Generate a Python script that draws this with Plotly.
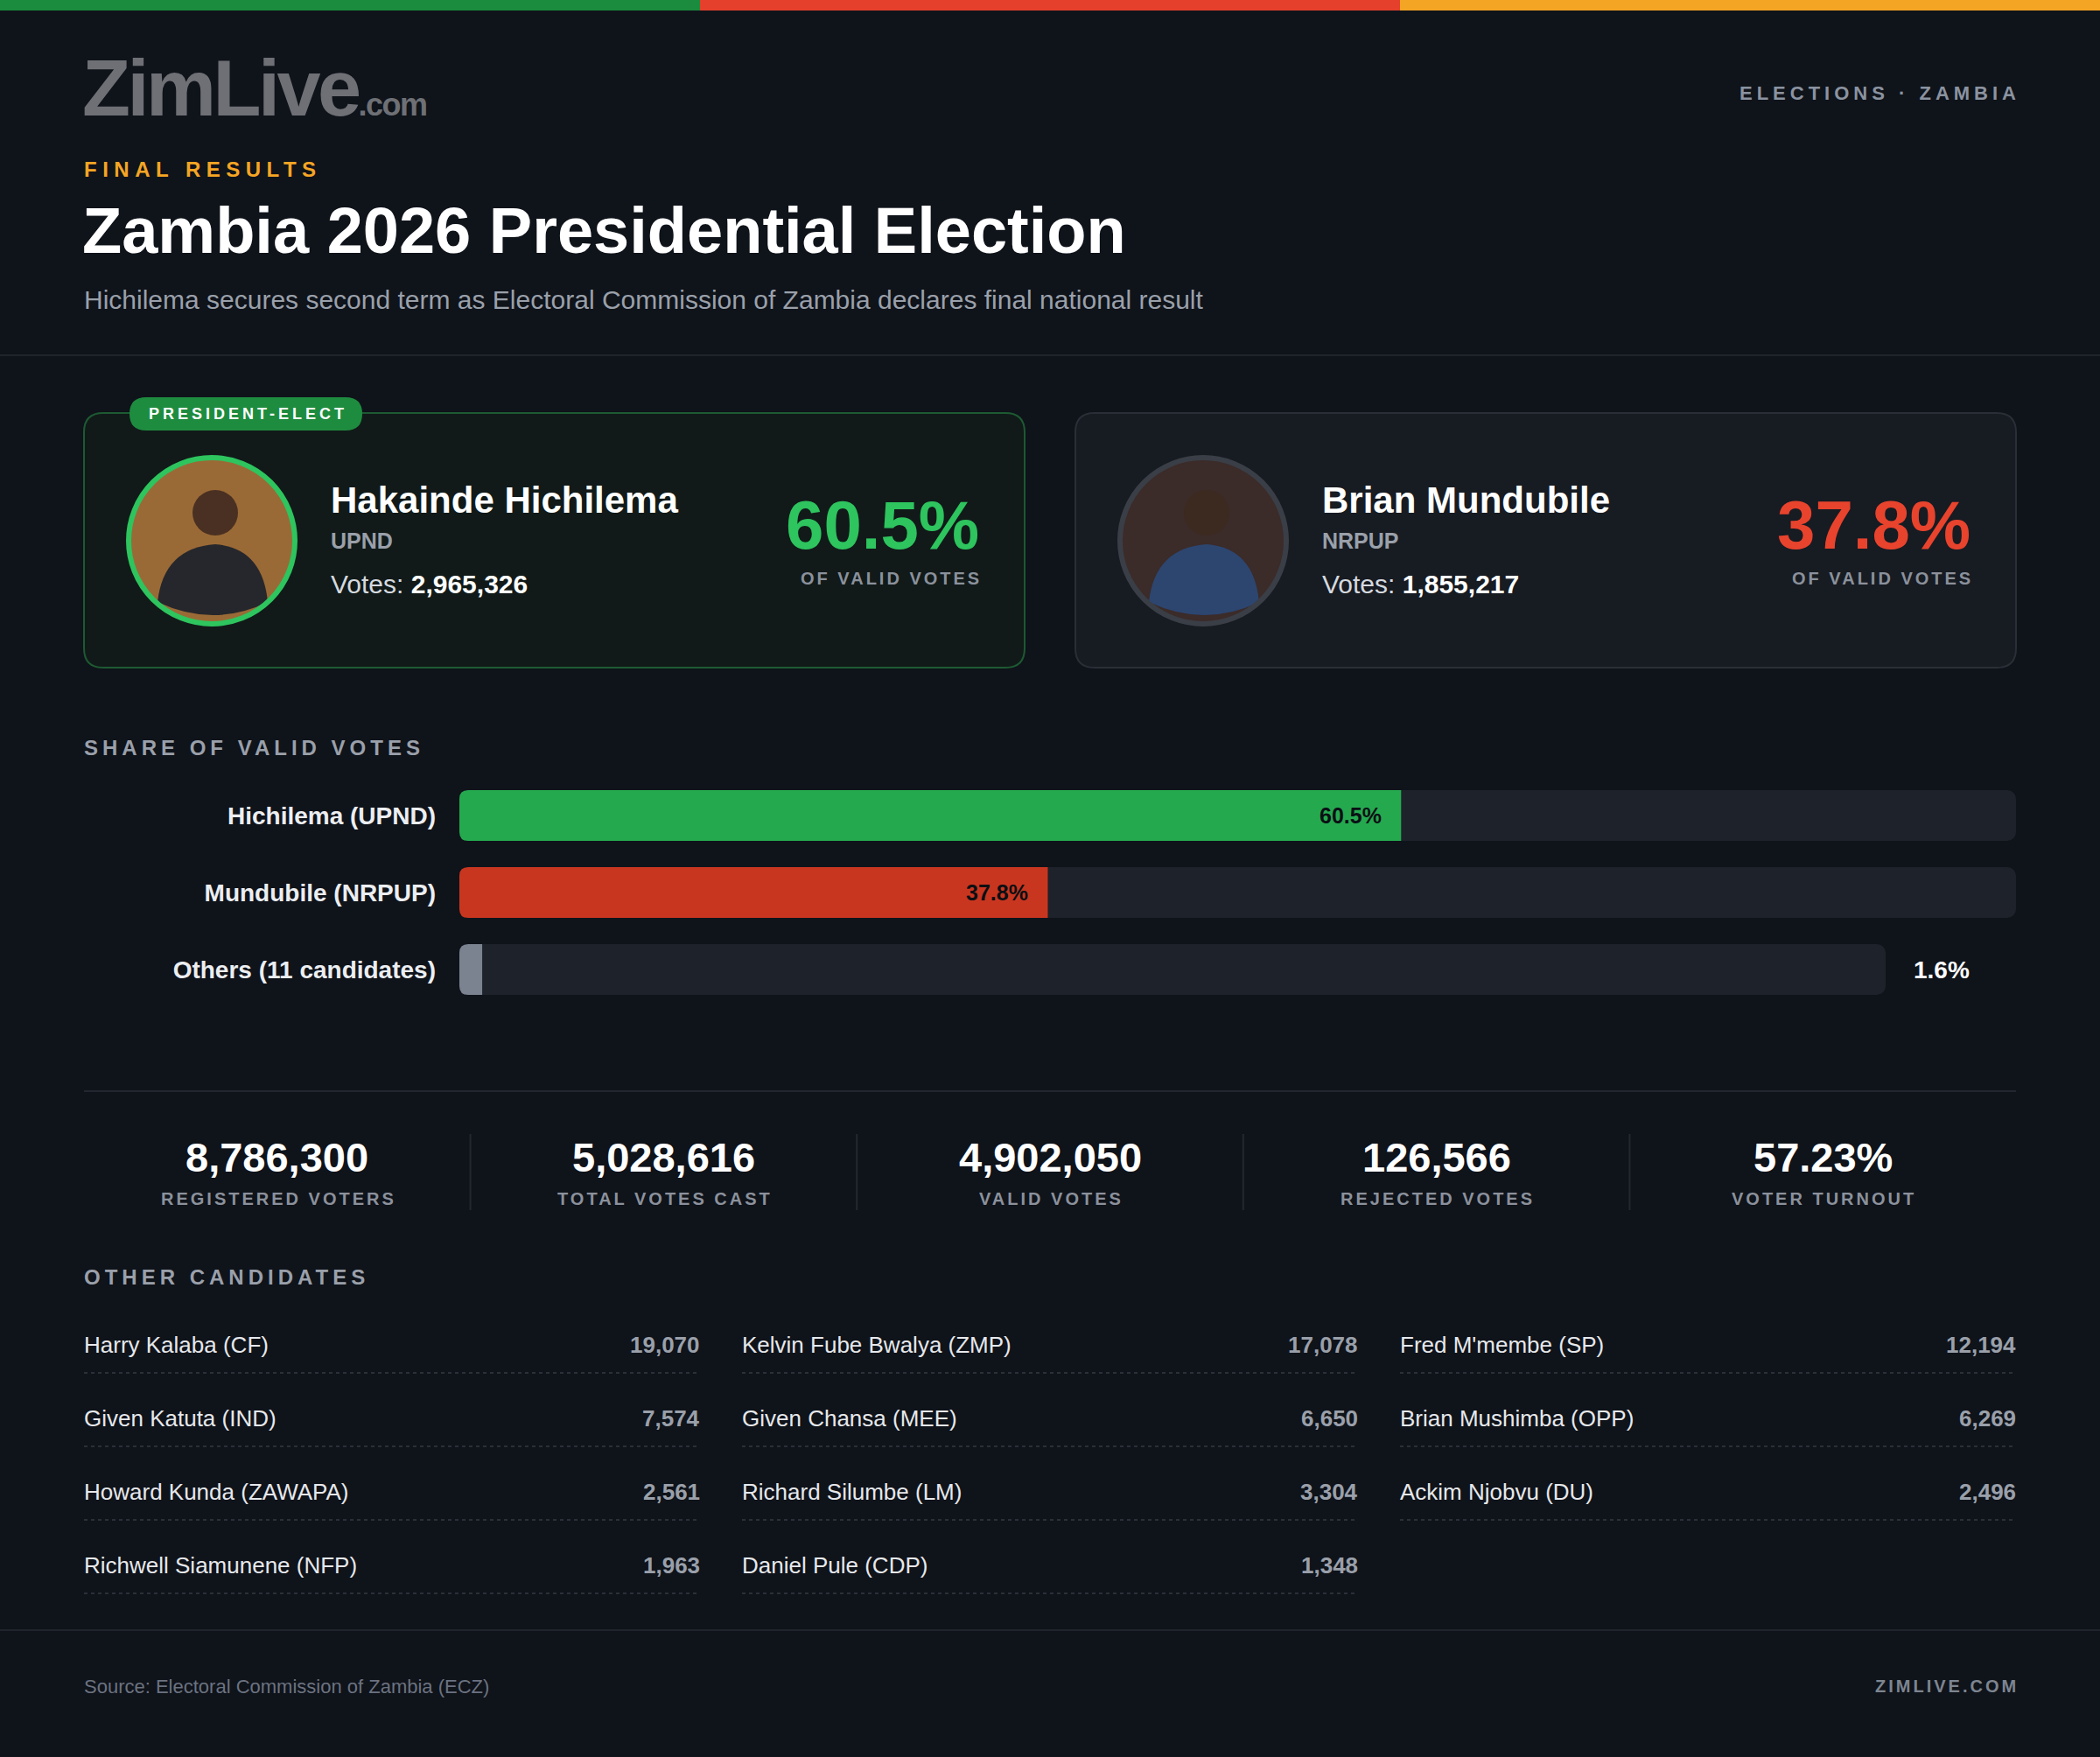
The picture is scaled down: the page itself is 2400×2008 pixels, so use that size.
import plotly.graph_objects as go

# %%
# Data

LEAD_NAMES = ["Hakainde Hichilema", "Brian Mundubile"]
LEAD_PARTIES = ["UPND", "NRPUP"]
LEAD_VOTES = [2965326, 1855217]
LEAD_SHARE = [60.5, 37.8]

BAR_LABELS = ["Hichilema (UPND)", "Mundubile (NRPUP)", "Others (11 candidates)"]
BAR_SHARE = [60.5, 37.8, 1.6]
TRACK_MAX = 100

STAT_VALUES = ["8,786,300", "5,028,616", "4,902,050", "126,566", "57.23%"]
STAT_LABELS = ["REGISTERED VOTERS", "TOTAL VOTES CAST", "VALID VOTES",
               "REJECTED VOTES", "VOTER TURNOUT"]

OTHER_NAMES = [
    "Harry Kalaba (CF)", "Kelvin Fube Bwalya (ZMP)", "Fred M'membe (SP)",
    "Given Katuta (IND)", "Given Chansa (MEE)", "Brian Mushimba (OPP)",
    "Howard Kunda (ZAWAPA)", "Richard Silumbe (LM)", "Ackim Njobvu (DU)",
    "Richwell Siamunene (NFP)", "Daniel Pule (CDP)",
]
OTHER_VOTES = [19070, 17078, 12194, 7574, 6650, 6269, 2561, 3304, 2496, 1963, 1348]

# %%
# Style

W, H = 2400, 2008
FONT = "Liberation Sans, Arial, sans-serif"
BG = "#0f131a"
WHITE = "#ffffff"
GREY = "#9aa0aa"
GREY_DIM = "#6b7280"
GREEN = "#2ec45e"
GREEN_BAR = "#25a94f"
RED = "#e8432d"
RED_BAR = "#c9361f"
OTHERS_BAR = "#7b8290"
TRACK = "#1e222a"
LINE = "#1f232b"

# bar panel geometry (pixels)
BAR_X0, BAR_X1, BAR_X1_OTHERS = 525, 2304, 2155
BAR_Y0, BAR_Y1 = 888, 1152
BAR_GAP = 0.34
BAR_R = 10


def fx(x):
    return x / W


def fy(y):
    return 1 - y / H


shapes = []


def rect(x0, y0, x1, y1, fill, line=None, lw=0):
    shapes.append(dict(type="rect", xref="paper", yref="paper",
                       x0=fx(x0), x1=fx(x1), y0=fy(y1), y1=fy(y0),
                       fillcolor=fill, line=dict(color=line or fill, width=lw)))


def pt(x, y):
    return f"{fx(x):.5f},{fy(y):.5f}"


def rrect(x0, y0, x1, y1, r, fill, line=None, lw=0):
    p = pt
    path = (f"M{p(x0 + r, y0)} L{p(x1 - r, y0)} Q{p(x1, y0)} {p(x1, y0 + r)} "
            f"L{p(x1, y1 - r)} Q{p(x1, y1)} {p(x1 - r, y1)} "
            f"L{p(x0 + r, y1)} Q{p(x0, y1)} {p(x0, y1 - r)} "
            f"L{p(x0, y0 + r)} Q{p(x0, y0)} {p(x0 + r, y0)} Z")
    shapes.append(dict(type="path", xref="paper", yref="paper", path=path,
                       fillcolor=fill, line=dict(color=line or fill, width=lw)))


def hline(x0, x1, y, color, lw=2, dash="solid"):
    shapes.append(dict(type="line", xref="paper", yref="paper",
                       x0=fx(x0), x1=fx(x1), y0=fy(y), y1=fy(y),
                       line=dict(color=color, width=lw, dash=dash)))


def vline(x, y0, y1, color, lw=2):
    shapes.append(dict(type="line", xref="paper", yref="paper",
                       x0=fx(x), x1=fx(x), y0=fy(y0), y1=fy(y1),
                       line=dict(color=color, width=lw)))


def circle(cx, cy, r, fill, line=None, lw=0):
    shapes.append(dict(type="circle", xref="paper", yref="paper",
                       x0=fx(cx - r), x1=fx(cx + r), y0=fy(cy + r), y1=fy(cy - r),
                       fillcolor=fill, line=dict(color=line or fill, width=lw)))


def photo(cx, cy, r, ring, bg, suit, skin):
    # placeholder portrait: background, shoulders, head, ring
    circle(cx, cy, r, bg)

    def p(x, y):
        return pt(cx + x, cy + y)
    body = (f"M{p(-62, 70)} Q{p(-55, 8)} {p(4, 4)} Q{p(58, 8)} {p(64, 70)} "
            f"Q{p(2, 100)} {p(-62, 70)} Z")
    shapes.append(dict(type="path", xref="paper", yref="paper", path=body,
                       fillcolor=suit, line=dict(width=0)))
    circle(cx + 4, cy - 32, 26, skin)
    circle(cx, cy, r, "rgba(0,0,0,0)", ring, 6)


def round_left_end(y0, y1, r):
    # plotly only rounds the far end of a bar; mask the base corners
    x = BAR_X0
    for cy, sy in ((y0, 1), (y1, -1)):
        path = f"M{pt(x, cy)} L{pt(x + r, cy)} Q{pt(x, cy)} {pt(x, cy + sy * r)} Z"
        shapes.append(dict(type="path", xref="paper", yref="paper", path=path,
                           fillcolor=BG, line=dict(width=0)))


annotations = []


def text(x, y, s, size, color, anchor="left", weight="normal", ls=None, **kw):
    if ls is not None:
        s = f'<span style="letter-spacing:{ls}px">{s}</span>'
        if anchor == "right":
            x += ls
        elif anchor == "center":
            x += ls / 2
    annotations.append(dict(x=fx(x), y=fy(y), xref="paper", yref="paper", text=s,
                            showarrow=False, xanchor=anchor, yanchor="middle",
                            borderpad=0, borderwidth=0,
                            font=dict(size=size, color=color, family=FONT, weight=weight),
                            **kw))


# %%
# Header

rect(0, 0, W / 3, 12, "#1b8b3d")
rect(W / 3, 0, 2 * W / 3, 12, "#e5402b")
rect(2 * W / 3, 0, W, 12, "#f5a524")

text(94, 101,
     '<span style="letter-spacing:-3.5px">ZimLive</span>'
     '<span style="font-size:36px;letter-spacing:-1.5px">.com</span>',
     90, "#6e7075", weight="bold")
text(2304, 107, "ELECTIONS · ZAMBIA", 22, "#8b93a0", anchor="right", weight="bold", ls=5)
text(96, 193, "FINAL RESULTS", 24, "#f5a524", weight="bold", ls=6.5)
text(94, 263, "Zambia 2026 Presidential Election", 74, WHITE, weight="bold")
text(96, 343, "Hichilema secures second term as Electoral Commission of Zambia "
              "declares final national result", 30, GREY)
hline(0, W, 406, LINE, 2)

# %%
# Candidate cards

cards = [
    dict(x0=96, x1=1171, fill="#111a19", border="#1d5a32", ring=GREEN,
         color=GREEN, photo=("#9a6a36", "#26272c", "#4a3022")),
    dict(x0=1229, x1=2304, fill="#171b22", border="#2a2e36", ring="#3a3e46",
         color=RED, photo=("#3b2b29", "#2c4670", "#3c2a20")),
]
for i, c in enumerate(cards):
    rrect(c["x0"], 472, c["x1"], 763, 22, c["fill"], c["border"], 2)
    cx = c["x0"] + 146
    photo(cx, 618, 95, c["ring"], *c["photo"])
    tx = c["x0"] + 282
    text(tx, 572, LEAD_NAMES[i], 42, WHITE, weight="bold")
    text(tx, 618, LEAD_PARTIES[i], 25, GREY, weight="bold")
    text(tx, 667, f'Votes: <b><span style="color:#ffffff">{LEAD_VOTES[i]:,}</span></b>',
         30, "#d5d9df")
    text(c["x1"] - 52, 600, f"{LEAD_SHARE[i]}%", 78, c["color"], anchor="right", weight="bold")
    text(c["x1"] - 52, 661, "OF VALID VOTES", 20, "#8b919c", anchor="right",
         weight="bold", ls=3)

rrect(148, 454, 414, 492, 19, "#1e8c3f")
text(281, 473, "PRESIDENT-ELECT", 18, WHITE, anchor="center", weight="bold", ls=4)

# %%
# Share of valid votes (bars)

text(96, 855, "SHARE OF VALID VOTES", 24, GREY, weight="bold", ls=5)

no_line = dict(width=0)
fig = go.Figure()
fig.add_trace(go.Bar(x=[TRACK_MAX] * 2, y=BAR_LABELS[:2], orientation="h",
                     xaxis="x", yaxis="y",
                     marker=dict(color=TRACK, cornerradius=BAR_R, line=no_line),
                     hoverinfo="skip"))
fig.add_trace(go.Bar(x=[TRACK_MAX], y=BAR_LABELS[2:], orientation="h",
                     xaxis="x2", yaxis="y",
                     marker=dict(color=TRACK, cornerradius=BAR_R, line=no_line),
                     hoverinfo="skip"))
fig.add_trace(go.Bar(x=BAR_SHARE[:2], y=BAR_LABELS[:2], orientation="h",
                     xaxis="x", yaxis="y",
                     marker=dict(color=[GREEN_BAR, RED_BAR], cornerradius=BAR_R,
                                 line=no_line)))
fig.add_trace(go.Bar(x=BAR_SHARE[2:], y=BAR_LABELS[2:], orientation="h",
                     xaxis="x2", yaxis="y",
                     marker=dict(color=OTHERS_BAR, cornerradius=BAR_R, line=no_line)))

slot = (BAR_Y1 - BAR_Y0) / len(BAR_LABELS)
half = slot * (1 - BAR_GAP) / 2
for k in range(len(BAR_LABELS)):
    cy = BAR_Y0 + (k + 0.5) * slot
    round_left_end(cy - half, cy + half, BAR_R)

for v, lab in zip(BAR_SHARE[:2], BAR_LABELS[:2]):
    annotations.append(dict(x=v, y=lab, xref="x", yref="y", text=f"{v}%",
                            showarrow=False, xanchor="right", yanchor="middle",
                            xshift=-20, font=dict(size=25, color="#0b0f14",
                                                  family=FONT, weight="bold")))
annotations.append(dict(x=TRACK_MAX, y=BAR_LABELS[2], xref="x2", yref="y",
                        text=f"{BAR_SHARE[2]}%", showarrow=False, xanchor="left",
                        yanchor="middle", xshift=30,
                        font=dict(size=28, color=WHITE, family=FONT, weight="bold")))

# %%
# Totals row

hline(96, 2304, 1247, "#22262e", 2)
col_w = (2304 - 96) / 5
for i, (val, lab) in enumerate(zip(STAT_VALUES, STAT_LABELS)):
    cx = 96 + (i + 0.5) * col_w
    text(cx, 1322, val, 47, WHITE, anchor="center", weight="bold")
    text(cx, 1370, lab, 20, "#8b919c", anchor="center", weight="bold", ls=3)
    if i > 0:
        vline(96 + i * col_w, 1296, 1383, "#232830", 2)

# %%
# Other candidates

text(96, 1459, "OTHER CANDIDATES", 24, GREY, weight="bold", ls=5)
col_x = [96, 848, 1600]
col_len = 704
for k, (name, votes) in enumerate(zip(OTHER_NAMES, OTHER_VOTES)):
    r, c = divmod(k, 3)
    y = 1537 + r * 84
    x0 = col_x[c]
    text(x0, y, name, 26, "#e6e8eb")
    text(x0 + col_len, y, f"{votes:,}", 26, GREY, anchor="right", weight="bold")
    hline(x0, x0 + col_len, y + 32, "#2a2f38", 2, dash="4px,4px")

# %%
# Footer

hline(0, W, 1863, LINE, 2)
text(96, 1927, "Source: Electoral Commission of Zambia (ECZ)", 22, GREY_DIM)
text(2304, 1927, "ZIMLIVE.COM", 20, "#7d8590", anchor="right", weight="bold", ls=3)

# %%
# Layout

fig.update_layout(
    width=W,
    height=H,
    margin=dict(l=0, r=0, t=0, b=0),
    paper_bgcolor=BG,
    plot_bgcolor="rgba(0,0,0,0)",
    barmode="overlay",
    bargap=BAR_GAP,
    showlegend=False,
    hovermode=False,
    xaxis=dict(domain=[BAR_X0 / W, BAR_X1 / W], range=[0, TRACK_MAX], visible=False,
               anchor="y", fixedrange=True),
    xaxis2=dict(domain=[BAR_X0 / W, BAR_X1_OTHERS / W], range=[0, TRACK_MAX],
                visible=False, anchor="y", fixedrange=True),
    yaxis=dict(domain=[1 - BAR_Y1 / H, 1 - BAR_Y0 / H], type="category",
               categoryorder="array", categoryarray=BAR_LABELS, range=[2.5, -0.5],
               showgrid=False, zeroline=False, showline=False, ticks="",
               ticklabelstandoff=26, anchor="x", fixedrange=True,
               tickfont=dict(size=28, color="#eceef1", family=FONT, weight="bold")),
    shapes=shapes,
    annotations=annotations,
)

fig.write_html(
    "out.html",
    config={"displayModeBar": False},
    post_script="document.body.style.margin='0';document.body.style.background='#0f131a';",
)
